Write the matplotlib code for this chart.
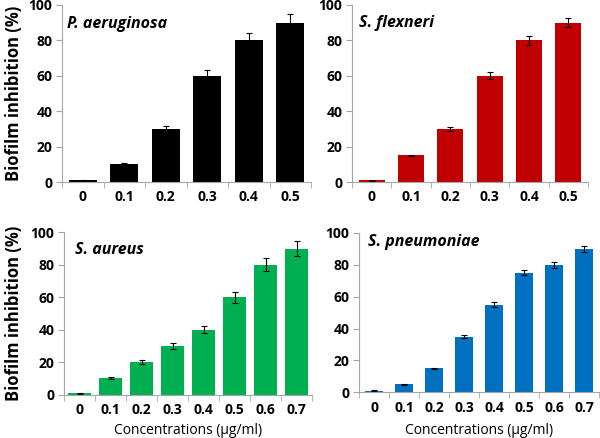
import matplotlib
matplotlib.use("Agg")
import matplotlib.pyplot as plt
import numpy as np

plt.rcParams['font.family'] = ['Open Sans', 'DejaVu Sans']

conc6 = ["0", "0.1", "0.2", "0.3", "0.4", "0.5"]
conc8 = ["0", "0.1", "0.2", "0.3", "0.4", "0.5", "0.6", "0.7"]

pa_vals = [1, 10, 30, 60, 80, 90]
pa_err = [0.4, 0.8, 1.5, 3.0, 4.1, 4.7]
sf_vals = [1, 15, 30, 60, 80, 90]
sf_err = [0.3, 0.5, 1.1, 2.0, 2.4, 2.6]
sa_vals = [1, 10, 20, 30, 40, 60, 80, 90]
sa_err = [0.3, 0.6, 1.2, 1.9, 2.3, 3.5, 3.9, 4.9]
sp_vals = [1, 5, 15, 35, 55, 75, 80, 90]
sp_err = [0.3, 0.4, 0.5, 1.0, 1.5, 1.5, 1.9, 2.1]

W, H = 600, 438
fig = plt.figure(figsize=(6, 4.38), dpi=100)

def axes_px(x0, x1, y100, y0):
    return fig.add_axes([x0 / W, 1 - y0 / H, (x1 - x0) / W, (y0 - y100) / H])

panels = [
    dict(box=(62, 311, 5, 182), cats=conc6, vals=pa_vals, err=pa_err, color='#000000',
         title='P. aeruginosa', tpos=(67, 24), bw=0.67, ylabel=True, xlabel=False),
    dict(box=(352, 588, 5, 182), cats=conc6, vals=sf_vals, err=sf_err, color='#C00000',
         title='S. flexneri', tpos=(359, 23), bw=0.66, ylabel=False, xlabel=False),
    dict(box=(64, 312, 232.3, 394.7), cats=conc8, vals=sa_vals, err=sa_err, color='#00B050',
         title='S. aureus', tpos=(75, 250), bw=0.71, ylabel=True, xlabel=True),
    dict(box=(359, 599, 233, 392.3), cats=conc8, vals=sp_vals, err=sp_err, color='#0070C0',
         title='S. pneumoniae', tpos=(368, 242), bw=0.63, ylabel=False, xlabel=True),
]

spine_col = '#A6A6A6'
for p in panels:
    ax = axes_px(*p['box'])
    n = len(p['cats'])
    x = np.arange(n)
    ax.bar(x, p['vals'], width=p['bw'], color=p['color'],
           yerr=p['err'], capsize=2.2, error_kw=dict(ecolor='black', elinewidth=0.8, capthick=0.8))
    ax.set_xlim(-0.5, n - 0.5)
    ax.set_ylim(0, 100)
    ax.set_yticks([0, 20, 40, 60, 80, 100])
    ax.set_xticks(x)
    ax.set_xticklabels(p['cats'], fontsize=10, fontweight='bold')
    ax.tick_params(axis='x', which='major', length=0, pad=6)
    ax.set_xticks(np.arange(-0.5, n, 1.0), minor=True)
    ax.tick_params(axis='x', which='minor', length=4, color=spine_col, direction='out')
    ax.tick_params(axis='y', length=4, color=spine_col, direction='out', labelsize=10, pad=3)
    for lab in ax.get_yticklabels():
        lab.set_fontweight('bold')
    for s in ['top', 'right']:
        ax.spines[s].set_visible(False)
    for s in ['left', 'bottom']:
        ax.spines[s].set_color(spine_col)
        ax.spines[s].set_linewidth(0.8)
    fig.text(p['tpos'][0] / W, 1 - p['tpos'][1] / H, p['title'], fontsize=11.5,
             fontweight='bold', style='italic', va='center', ha='left')
    if p['ylabel']:
        yc = (p['box'][2] + p['box'][3]) / 2
        fig.text(14 / W, 1 - yc / H, 'Biofilm inhibition (%)', rotation=90,
                 fontsize=12, fontweight='bold', va='center', ha='center')
    if p['xlabel']:
        xc = (p['box'][0] + p['box'][1]) / 2 + 0
        fig.text(xc / W, 1 - 430 / H, 'Concentrations (µg/ml)', fontsize=10,
                 va='center', ha='center')

fig.savefig('out.png', dpi=100)
